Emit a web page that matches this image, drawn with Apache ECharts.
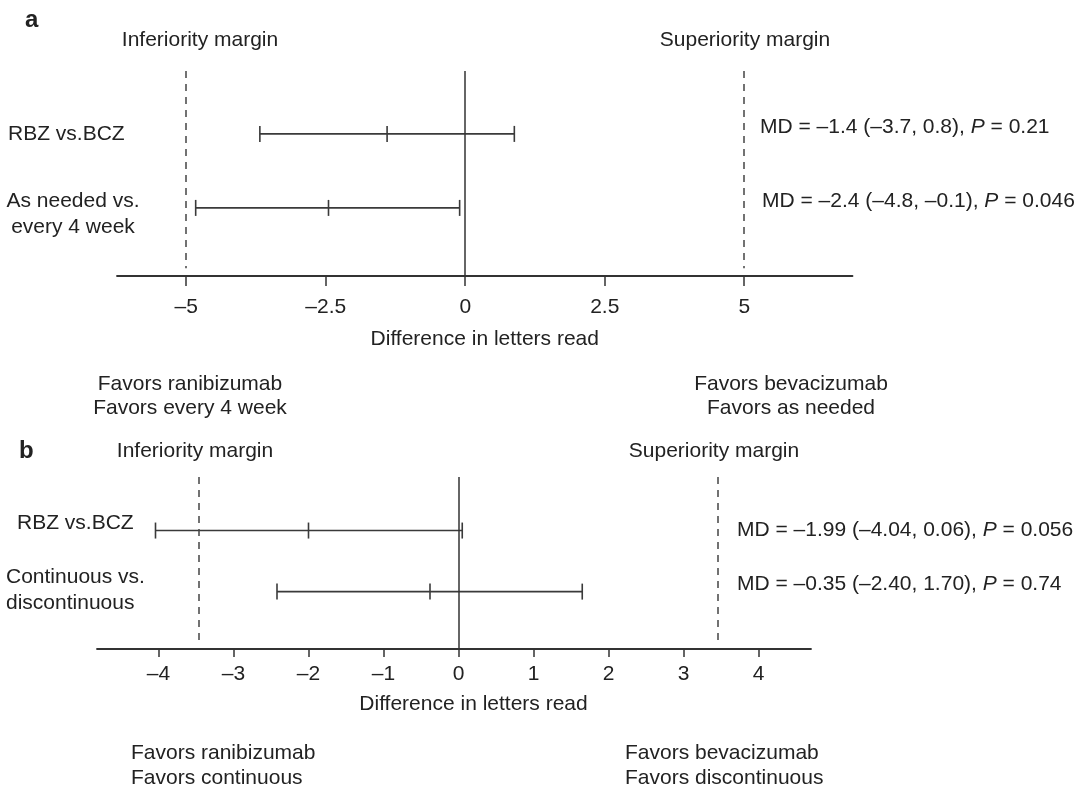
<!DOCTYPE html>
<html><head><meta charset="utf-8">
<script src="https://cdn.jsdelivr.net/npm/echarts@6/dist/echarts.min.js"></script>
<style>html,body{margin:0;padding:0;background:#fff}#c{width:1088px;height:785px}</style>
</head><body><div id="c"></div>
<script>
// ---- Panel a data ----
const rowsA = ['RBZ vs.BCZ', 'As needed vs.\nevery 4 week'];
const lowA = [-3.68, -4.83];
const meanA = [-1.4, -2.45];
const highA = [0.88, -0.1];
const mdA = ['MD = –1.4 (–3.7, 0.8), ', 'MD = –2.4 (–4.8, –0.1), '];
const pA = ['0.21', '0.046'];
const marginA = [-5, 5];
const ticksA = [-5, -2.5, 0, 2.5, 5];
const favorsA = ['Favors ranibizumab\nFavors every 4 week', 'Favors bevacizumab\nFavors as needed'];

// ---- Panel b data ----
const rowsB = ['RBZ vs.BCZ', 'Continuous vs.\ndiscontinuous'];
const lowB = [-4.04, -2.42];
const meanB = [-2.0, -0.38];
const highB = [0.05, 1.65];
const mdB = ['MD = –1.99 (–4.04, 0.06), ', 'MD = –0.35 (–2.40, 1.70), '];
const pB = ['0.056', '0.74'];
const marginB = [-3.47, 3.45];
const ticksB = [-4, -3, -2, -1, 0, 1, 2, 3, 4];
const favorsB = ['Favors ranibizumab\nFavors continuous', 'Favors bevacizumab\nFavors discontinuous'];

const FONT = '"Liberation Sans", Arial, Helvetica, sans-serif';
const FS = 21;
const TXT = '#222';
const LINE = '#3a3a3a';

const fmt = v => (v < 0 ? '–' + Math.abs(v) : String(v));

function renderBar(params, api) {
  const y = api.value(3);
  const lo = api.coord([api.value(0), y]);
  const mid = api.coord([api.value(1), y]);
  const hi = api.coord([api.value(2), y]);
  const h = 8;
  const style = { stroke: LINE, lineWidth: 1.6 };
  const cap = p => ({ type: 'line', shape: { x1: p[0], y1: p[1] - h, x2: p[0], y2: p[1] + h }, style });
  return { type: 'group', children: [
    { type: 'line', shape: { x1: lo[0], y1: lo[1], x2: hi[0], y2: hi[1] }, style },
    cap(lo), cap(mid), cap(hi)
  ]};
}

function xAxisCfg(idx, min, max, ticks, tickLen, labMargin, nameGap, namePad) {
  return {
    type: 'value', gridIndex: idx, min, max,
    splitLine: { show: false },
    axisLine: { show: true, onZero: false, lineStyle: { color: '#333', width: 1.8 } },
    axisTick: { show: true, length: tickLen, customValues: ticks, lineStyle: { color: '#333', width: 1.5 } },
    axisLabel: { customValues: ticks, formatter: fmt, fontSize: FS, fontFamily: FONT, color: TXT, margin: labMargin },
    name: 'Difference in letters read', nameLocation: 'middle', nameGap,
    nameTextStyle: { fontSize: FS, fontFamily: FONT, color: TXT, padding: namePad }
  };
}

function bars(idx, low, mean, high) {
  return {
    type: 'custom', xAxisIndex: idx, yAxisIndex: idx, renderItem: renderBar, silent: true,
    data: low.map((_, i) => [low[i], mean[i], high[i], i])
  };
}

function refLines(idx, margins, yTop, yBot) {
  return {
    type: 'line', xAxisIndex: idx, yAxisIndex: idx, data: [], silent: true,
    markLine: {
      silent: true, symbol: 'none', label: { show: false },
      data: [
        { xAxis: 0, lineStyle: { type: 'solid', color: '#333', width: 1.5 } },
        ...margins.map(m => [
          { coord: [m, yTop], lineStyle: { type: [7, 6], color: '#444', width: 1.5 } },
          { coord: [m, yBot] }
        ])
      ]
    }
  };
}

function txt(x, y, text, opt = {}) {
  return {
    type: 'text', x, y, silent: true,
    style: Object.assign({ text, font: (opt.weight || 'normal') + ' ' + (opt.size || FS) + 'px ' + FONT,
      fill: TXT, align: opt.align || 'left', verticalAlign: 'middle', lineHeight: opt.lh || 25.5 }, opt.style || {})
  };
}
function mdTxt(x, y, md, p) {
  return {
    type: 'text', x, y, silent: true,
    style: {
      text: '{n|' + md + '}{i|P}{n| = ' + p + '}',
      align: 'left', verticalAlign: 'middle', fill: TXT,
      rich: {
        n: { font: FS + 'px ' + FONT, fill: TXT },
        i: { font: 'italic ' + FS + 'px ' + FONT, fill: TXT }
      }
    }
  };
}

const chart = echarts.init(document.getElementById('c'), null, { renderer: 'canvas' });
chart.setOption({
  backgroundColor: '#fff',
  animation: false,
  grid: [
    { left: 117, width: 735.5, top: 71, height: 205 },
    { left: 97, width: 714, top: 477, height: 172 }
  ],
  xAxis: [
    xAxisCfg(0, -6.24, 6.94, ticksA, 10, 21, 53, [0, 0, 0, 0]),
    xAxisCfg(1, -4.82, 4.7, ticksB, 8, 15, 45, [0, 0, 0, 39])
  ],
  yAxis: [
    { type: 'value', gridIndex: 0, min: -0.85, max: 1.92, inverse: true, show: false },
    { type: 'value', gridIndex: 1, min: -0.877, max: 1.94, inverse: true, show: false }
  ],
  series: [
    refLines(0, marginA, -0.85, 1.815),
    refLines(1, marginB, -0.877, 1.84),
    bars(0, lowA, meanA, highA),
    bars(1, lowB, meanB, highB)
  ],
  graphic: [
    txt(25, 20, 'a', { weight: 'bold', size: 24 }),
    txt(200, 40, 'Inferiority margin', { align: 'center' }),
    txt(745, 40, 'Superiority margin', { align: 'center' }),
    txt(8, 134, rowsA[0]),
    txt(73, 214, rowsA[1], { align: 'center' }),
    mdTxt(760, 127, mdA[0], pA[0]),
    mdTxt(762, 201, mdA[1], pA[1]),
    txt(190, 396, favorsA[0], { align: 'center', lh: 24 }),
    txt(791, 396, favorsA[1], { align: 'center', lh: 24 }),

    txt(19, 451, 'b', { weight: 'bold', size: 24 }),
    txt(195, 451, 'Inferiority margin', { align: 'center' }),
    txt(714, 451, 'Superiority margin', { align: 'center' }),
    txt(17, 523, rowsB[0]),
    txt(6, 590, rowsB[1]),
    mdTxt(737, 530, mdB[0], pB[0]),
    mdTxt(737, 584, mdB[1], pB[1]),
    txt(131, 766, favorsB[0], { lh: 25 }),
    txt(625, 766, favorsB[1], { lh: 25 })
  ]
});
</script>
</body></html>
